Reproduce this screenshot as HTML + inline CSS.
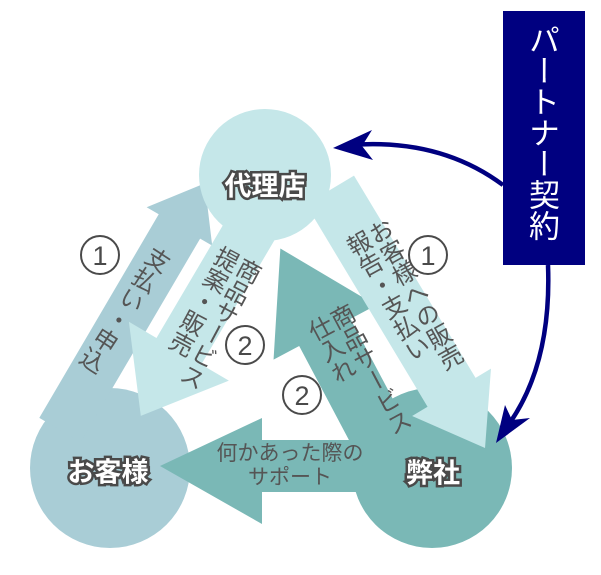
<!DOCTYPE html>
<html><head><meta charset="utf-8"><style>
html,body{margin:0;padding:0;background:#fff;}
#c{position:relative;width:601px;height:575px;overflow:hidden;font-family:"Liberation Sans","Noto Sans CJK JP",sans-serif;}
svg{position:absolute;left:0;top:0;}
.vt{position:absolute;writing-mode:vertical-rl;color:#555;font-size:24px;line-height:25px;white-space:nowrap;transform-origin:center center;font-family:"Noto Sans CJK JP",sans-serif;}
.lbl{position:absolute;font-weight:bold;color:#fff;font-size:27px;-webkit-text-stroke:5px #4a4a4a;paint-order:stroke fill;white-space:nowrap;transform:translate(-50%,-50%);font-family:"Noto Sans CJK JP",sans-serif;}
</style></head><body><div id="c">
<svg width="601" height="575" viewBox="0 0 601 575">
<circle cx="110" cy="468" r="80" fill="#a9cdd6"/>
<circle cx="432" cy="468" r="80" fill="#7ab8b6"/>
<g transform="translate(60,430) rotate(-59.6)"><polygon points="0,-24 236,-24 236,-38 286,0 236,38 236,24 0,24" fill="#a9cdd6"/></g>
<circle cx="265" cy="175" r="66" fill="#c5e7e9"/>
<g transform="translate(255,222) rotate(120.5)"><polygon points="0,-26 150,-26 150,-58 225,0 150,58 150,26 0,26" fill="#c5e7e9"/></g>
<g transform="translate(395,465) rotate(242.1)"><polygon points="0,-29 150,-29 150,-58 245,0 150,58 150,29 0,29" fill="#7ab8b6"/></g>
<g transform="translate(330,190) rotate(59)"><polygon points="0,-28 236,-28 236,-46 301,0 236,46 236,28 0,28" fill="#c5e7e9"/></g>
<polygon points="360,440 262,440 262,418 160,466 262,524 262,492 360,492" fill="#7ab8b6"/>
<g fill="none" stroke="#4a4a4a" stroke-width="2">
<circle cx="100" cy="255" r="19"/><circle cx="245" cy="345" r="19"/>
<circle cx="428" cy="255" r="19"/><circle cx="302" cy="395" r="19"/>
</g>
<g fill="#4a4a4a" font-size="27" text-anchor="middle" font-family="Liberation Sans, Noto Sans CJK JP, sans-serif">
<text x="100" y="265">1</text><text x="245" y="355">2</text>
<text x="428" y="265">1</text><text x="302" y="405">2</text>
</g>
<rect x="503" y="11" width="82" height="254" fill="#000080"/>
<g stroke="#000080" stroke-width="4.5" fill="none">
<path d="M350,145 Q440,138 503,185"/>
<path d="M548,265 Q552,370 503,432"/>
</g>
<polygon points="333,148 372,130 362,146 373,160" fill="#000080"/>
<polygon points="496,443 505,405 512,420 530,418" fill="#000080"/>
</svg>
<div style="position:absolute;left:503px;top:24px;width:82px;color:#fff;font-size:31px;line-height:32px;writing-mode:vertical-rl;height:240px;display:flex;align-items:center;font-family:'Noto Sans CJK JP',sans-serif;">パートナー契約</div>
<div class="vt" style="left:113px;top:238px;transform:rotate(33deg);">支払い・申込</div>
<div class="vt" style="left:185px;top:246px;transform:rotate(28deg);">商品サービス<br>提案・販売</div>
<div class="vt" style="left:380px;top:216px;transform:rotate(-29deg);">お客様への販売<br>報告・支払い</div>
<div class="vt" style="left:335px;top:303px;transform:rotate(-28deg);">商品サービス<br>仕入れ</div>
<div style="position:absolute;left:190px;top:440px;width:200px;text-align:center;color:#555;font-size:21px;line-height:24px;font-family:'Noto Sans CJK JP',sans-serif;">何かあった際の<br>サポート</div>
<div class="lbl" style="left:265px;top:184px;">代理店</div>
<div class="lbl" style="left:108px;top:470px;">お客様</div>
<div class="lbl" style="left:433px;top:471px;">弊社</div>
</div></body></html>
